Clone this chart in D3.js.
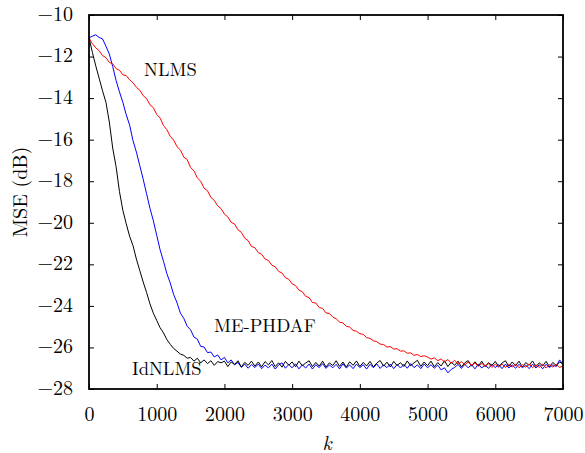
<!DOCTYPE html>
<html>
<head>
<meta charset="utf-8">
<script src="https://cdn.jsdelivr.net/npm/d3@7"></script>
<style>
  body { margin: 0; background: #fff; }
</style>
</head>
<body>
<svg id="chart"></svg>
<script>
// sample index step of the curves (k = 0, 50, ..., 7000)
const kStep = 50;

// MSE (dB)
const idnlms = [
  -11.10, -11.80, -12.45, -13.05, -13.65, -14.20, -15.15, -16.40, -17.30, -18.50,
  -19.40, -20.05, -20.65, -21.10, -21.75, -22.30, -22.85, -23.35, -23.90, -24.35,
  -24.70, -25.05, -25.30, -25.62, -25.85, -26.05, -26.18, -26.32, -26.38, -26.52,
  -26.48, -26.66, -26.52, -26.74, -26.60, -26.78, -26.64, -26.86, -26.68, -26.74,
  -26.66, -26.92, -26.70, -26.82, -26.64, -26.94, -26.72, -26.86, -26.66, -26.90,
  -26.70, -26.93, -26.68, -26.84, -26.63, -26.92, -26.74, -26.95, -26.67, -26.85,
  -26.70, -26.93, -26.66, -26.88, -26.75, -26.64, -26.92, -26.72, -26.90, -26.66,
  -26.94, -26.74, -26.87, -26.64, -26.91, -26.70, -26.95, -26.69, -26.86, -26.65,
  -26.92, -26.72, -26.89, -26.67, -26.93, -26.75, -26.63, -26.90, -26.71, -26.94,
  -26.67, -26.87, -26.73, -26.92, -26.65, -26.88, -26.74, -26.62, -26.91, -26.70,
  -26.88, -26.66, -26.93, -26.73, -26.89, -26.64, -26.92, -26.71, -26.86, -26.66,
  -26.94, -26.74, -26.63, -26.90, -26.69, -26.89, -26.66, -26.93, -26.73, -26.87,
  -26.67, -26.92, -26.75, -26.64, -26.91, -26.70, -26.88, -26.66, -26.94, -26.73,
  -26.86, -26.65, -26.92, -26.74, -26.89, -26.67, -26.93, -26.72, -26.87, -26.70,
  -26.80
];

const mePhdaf = [
  -11.10, -11.02, -10.95, -11.08, -11.15, -11.50, -11.88, -12.48, -13.15, -13.70,
  -14.20, -14.80, -15.30, -16.05, -16.60, -17.25, -17.90, -18.60, -19.30, -19.90,
  -20.60, -21.30, -21.85, -22.45, -22.90, -23.45, -23.85, -24.35, -24.60, -24.98,
  -25.15, -25.50, -25.60, -25.95, -25.98, -26.25, -26.22, -26.46, -26.36, -26.60,
  -26.48, -26.74, -26.60, -26.84, -26.72, -26.96, -26.80, -27.00, -26.82, -26.97,
  -26.80, -27.02, -26.85, -26.98, -26.80, -27.04, -26.84, -26.74, -27.00, -26.82,
  -26.98, -26.79, -27.03, -26.84, -26.99, -26.80, -27.04, -26.83, -26.97, -26.78,
  -27.01, -26.84, -26.98, -26.81, -27.03, -26.79, -26.99, -26.84, -27.02, -26.80,
  -26.97, -26.83, -27.04, -26.81, -26.98, -26.79, -27.01, -26.84, -26.97, -26.80,
  -27.02, -26.82, -26.99, -26.81, -27.00, -26.78, -26.97, -26.84, -27.02, -26.80,
  -26.98, -26.83, -27.00, -26.85, -27.08, -26.98, -27.22, -27.06, -26.96, -26.82,
  -27.01, -26.81, -26.98, -26.83, -27.03, -26.80, -26.99, -26.84, -27.01, -26.81,
  -26.97, -26.83, -27.02, -26.80, -26.99, -26.84, -27.00, -26.81, -26.98, -26.85,
  -27.02, -26.80, -26.99, -26.83, -27.03, -26.81, -26.97, -26.84, -26.92, -26.60,
  -26.80
];

const nlms = [
  -11.10, -11.38, -11.58, -11.72, -11.95, -12.05, -12.28, -12.35, -12.58, -12.66,
  -12.88, -12.92, -13.12, -13.26, -13.48, -13.62, -13.88, -14.02, -14.32, -14.46,
  -14.78, -14.96, -15.32, -15.52, -15.84, -16.02, -16.34, -16.50, -16.84, -16.96,
  -17.34, -17.50, -17.84, -18.00, -18.34, -18.46, -18.78, -18.92, -19.18, -19.32,
  -19.58, -19.72, -19.98, -20.06, -20.34, -20.46, -20.74, -20.86, -21.14, -21.20,
  -21.44, -21.52, -21.74, -21.82, -22.04, -22.12, -22.34, -22.42, -22.64, -22.72,
  -22.94, -23.02, -23.24, -23.32, -23.54, -23.60, -23.84, -23.86, -24.08, -24.12,
  -24.34, -24.36, -24.54, -24.62, -24.78, -24.82, -24.98, -25.02, -25.18, -25.22,
  -25.34, -25.37, -25.53, -25.56, -25.68, -25.72, -25.84, -25.86, -25.98, -25.96,
  -26.08, -26.06, -26.18, -26.16, -26.28, -26.26, -26.38, -26.34, -26.44, -26.40,
  -26.46, -26.56, -26.50, -26.64, -26.55, -26.70, -26.58, -26.76, -26.62, -26.80,
  -26.68, -26.84, -26.70, -26.88, -26.74, -26.92, -26.76, -26.90, -26.78, -26.96,
  -26.80, -26.95, -26.79, -26.97, -26.82, -26.94, -26.80, -26.98, -26.83, -26.95,
  -26.79, -26.97, -26.84, -26.96, -26.80, -26.99, -26.83, -26.94, -26.81, -26.96,
  -26.90
];

const xTicks = [0, 1000, 2000, 3000, 4000, 5000, 6000, 7000];
const yTicks = [-28, -26, -24, -22, -20, -18, -16, -14, -12, -10];

// drawing order: blue, black, red on top
const series = [
  { name: "ME-PHDAF", values: mePhdaf, color: "#0000ff", label: [214, 332] },
  { name: "IdNLMS", values: idnlms, color: "#000000", label: [132, 375] },
  { name: "NLMS", values: nlms, color: "#ff0000", label: [144, 76] }
];

const font = '"Latin Modern Roman", "Liberation Serif", serif';
const width = 585;
const height = 453;
const margin = { top: 15, right: 22, bottom: 64, left: 89 };

const svg = d3.select("#chart")
  .attr("width", width)
  .attr("height", height);

const x = d3.scaleLinear()
  .domain([0, 7000])
  .range([margin.left, width - margin.right]);

const y = d3.scaleLinear()
  .domain([-28, -10])
  .range([height - margin.bottom, margin.top]);

// curves
const line = d3.line()
  .x((d, i) => x(i * kStep))
  .y(d => y(d));

svg.append("g")
  .selectAll("path")
  .data(series)
  .join("path")
  .attr("d", d => line(d.values))
  .attr("fill", "none")
  .attr("stroke", d => d.color)
  .attr("stroke-width", 1)
  .attr("stroke-linejoin", "round");

// frame with inward ticks on all sides
const tickLen = 5;
const fmt = d3.format("d");

svg.append("g")
  .attr("transform", `translate(0,${y(-28)})`)
  .call(d3.axisBottom(x).tickValues(xTicks).tickFormat(fmt).tickSizeInner(-tickLen).tickSizeOuter(0).tickPadding(18))
  .call(g => g.select(".domain").remove());

svg.append("g")
  .attr("transform", `translate(0,${y(-10)})`)
  .call(d3.axisTop(x).tickValues(xTicks).tickSizeInner(-tickLen).tickSizeOuter(0).tickFormat(""))
  .call(g => g.select(".domain").remove());

svg.append("g")
  .attr("class", "yaxis")
  .attr("transform", `translate(${x(0)},0)`)
  .call(d3.axisLeft(y).tickValues(yTicks).tickFormat(fmt).tickSizeInner(-tickLen).tickSizeOuter(0).tickPadding(16))
  .call(g => g.select(".domain").remove());

svg.append("g")
  .attr("transform", `translate(${x(7000)},0)`)
  .call(d3.axisRight(y).tickValues(yTicks).tickSizeInner(-tickLen).tickSizeOuter(0).tickFormat(""))
  .call(g => g.select(".domain").remove());

svg.selectAll(".tick line").attr("stroke", "#000").attr("stroke-width", 1);
svg.selectAll(".tick text")
  .style("font-family", font)
  .style("font-size", "20px");
svg.selectAll(".yaxis .tick text").attr("dy", "0.27em");

svg.append("rect")
  .attr("x", x(0))
  .attr("y", y(-10))
  .attr("width", x(7000) - x(0))
  .attr("height", y(-28) - y(-10))
  .attr("fill", "none")
  .attr("stroke", "#000")
  .attr("stroke-width", 1.8);

// curve labels
svg.append("g")
  .selectAll("text")
  .data(series)
  .join("text")
  .attr("x", d => d.label[0])
  .attr("y", d => d.label[1])
  .style("font-family", font)
  .style("font-size", "18.5px")
  .text(d => d.name);

// axis titles
svg.append("text")
  .attr("x", 327)
  .attr("y", 450)
  .attr("text-anchor", "middle")
  .style("font-family", font)
  .style("font-size", "20px")
  .style("font-style", "italic")
  .text("k");

svg.append("text")
  .attr("transform", "translate(27,192) rotate(-90)")
  .attr("text-anchor", "middle")
  .style("font-family", font)
  .style("font-size", "20px")
  .text("MSE (dB)");
</script>
</body>
</html>
